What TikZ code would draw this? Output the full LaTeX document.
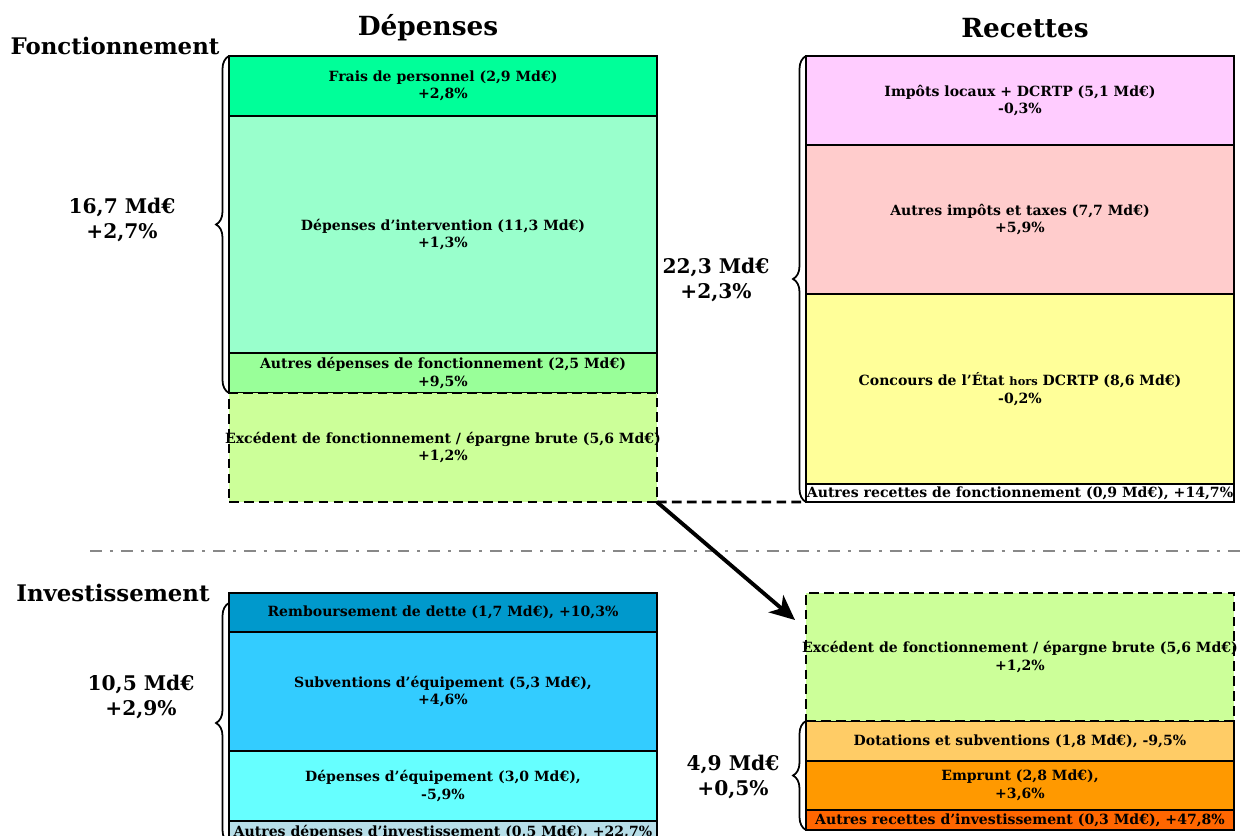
\documentclass[tikz,border=0pt]{standalone}
\usepackage{fontspec}
\setmainfont{DejaVu Serif}
\usetikzlibrary{positioning,decorations.pathreplacing,arrows.meta}
\definecolor{cfrais}{HTML}{00FF99}
\definecolor{cinterv}{HTML}{99FFCC}
\definecolor{cautresdep}{HTML}{99FF99}
\definecolor{cexcedent}{HTML}{CCFF99}
\definecolor{cimpots}{HTML}{FFCCFF}
\definecolor{cautresimp}{HTML}{FFCCCC}
\definecolor{cconcours}{HTML}{FFFF99}
\definecolor{crembours}{HTML}{0099CC}
\definecolor{csubv}{HTML}{33CCFF}
\definecolor{cequip}{HTML}{66FFFF}
\definecolor{cautresinv}{HTML}{B7DEE8}
\definecolor{cdotations}{HTML}{FFCC66}
\definecolor{cemprunt}{HTML}{FF9900}
\definecolor{cautresrecinv}{HTML}{FF6600}
\definecolor{cgris}{HTML}{888888}
\begin{document}
\begin{tikzpicture}[
  bloc/.style={draw, fill=#1, line width=0.6pt, minimum width=8.56cm, inner sep=0pt, outer sep=0pt, anchor=north},
  tirets/.style={bloc=#1, dash pattern=on 5.5pt off 3pt, line width=1.6pt},
  every label/.style={align=center, font=\bfseries\fontsize{8}{10}\selectfont},
  accolade/.style={decorate, decoration={brace, amplitude=0.26cm}, line width=1pt},
  total/.style={align=center, font=\bfseries\fontsize{11.5}{14}\selectfont},
  titre/.style={font=\bfseries\fontsize{15}{18}\selectfont},
  rubrique/.style={font=\bfseries\fontsize{13}{16}\selectfont},
  separation/.style={cgris, line width=1.7pt, dash pattern=on 6.8pt off 4.5pt on 1.7pt off 4.5pt},
  fleche/.style={-{Stealth[length=0.5cm,width=0.45cm,inset=0.14cm]}, line width=2.2pt}]
  \useasboundingbox (0,0) rectangle (24.94,16.7);

  \node[titre] (depenses) at (8.56,16.14) {Dépenses};
  \node[titre] (recettes) at (20.5,16.14) {Recettes};
  \node[rubrique] (fonct) at (2.3,15.78) {Fonctionnement};
  \node[rubrique] (invest) at (2.26,4.84) {Investissement};

  \node[bloc=cfrais, minimum height=1.2cm, label={center:{Frais de personnel (2,9 Md€)\\+2,8\%}}] (frais) at (8.86,15.58) {};
  \node[bloc=cinterv, minimum height=4.74cm, below=0pt of frais, label={center:{Dépenses d’intervention (11,3 Md€)\\+1,3\%}}] (interv) {};
  \node[bloc=cautresdep, minimum height=0.8cm, below=0pt of interv, label={center:{Autres dépenses de fonctionnement (2,5 Md€)\\+9,5\%}}] (autresdep) {};
  \node[tirets=cexcedent, minimum height=2.18cm, below=0pt of autresdep, label={center:{Excédent de fonctionnement / épargne brute (5,6 Md€)\\+1,2\%}}] (excfonct) {};

  \node[bloc=cimpots, minimum height=1.78cm, label={center:{Impôts locaux + DCRTP (5,1 Md€)\\-0,3\%}}] (impots) at (20.4,15.58) {};
  \node[bloc=cautresimp, minimum height=2.98cm, below=0pt of impots, label={center:{Autres impôts et taxes (7,7 Md€)\\+5,9\%}}] (autresimp) {};
  \node[bloc=cconcours, minimum height=3.8cm, below=0pt of autresimp, label={center:{Concours de l’État {\fontsize{6.5}{8}\selectfont hors} DCRTP (8,6 Md€)\\-0,2\%}}] (concours) {};
  \node[bloc=white, minimum height=0.36cm, below=0pt of concours, label={center:{Autres recettes de fonctionnement (0,9 Md€), +14,7\%}}] (autresrec) {};

  \draw[dash pattern=on 5.5pt off 3pt, line width=1.6pt] (excfonct.south east) -- (autresrec.south west);
  \draw[accolade] (autresdep.south west) -- (frais.north west);
  \draw[accolade] (autresrec.south west) -- (impots.north west);
  \node[total] (totdepf) at (2.44,12.3) {16,7 Md€\\+2,7\%};
  \node[total] (totrecf) at (14.32,11.1) {22,3 Md€\\+2,3\%};

  \draw[separation] (1.8,5.68) -- (24.8,5.68);

  \node[bloc=crembours, minimum height=0.78cm, label={center:{Remboursement de dette (1,7 Md€), +10,3\%}}] (rembours) at (8.86,4.84) {};
  \node[bloc=csubv, minimum height=2.38cm, below=0pt of rembours, label={center:{Subventions d’équipement (5,3 Md€),\\+4,6\%}}] (subv) {};
  \node[bloc=cequip, minimum height=1.4cm, below=0pt of subv, label={center:{Dépenses d’équipement (3,0 Md€),\\-5,9\%}}] (equip) {};
  \node[bloc=cautresinv, minimum height=0.44cm, below=0pt of equip, label={center:{Autres dépenses d’investissement (0,5 Md€), +22,7\%}}] (autresinv) {};

  \node[bloc=cdotations, minimum height=0.8cm, label={center:{Dotations et subventions (1,8 Md€), -9,5\%}}] (dotations) at (20.4,2.28) {};
  \node[bloc=cemprunt, minimum height=0.98cm, below=0pt of dotations, label={center:{Emprunt (2,8 Md€),\\+3,6\%}}] (emprunt) {};
  \node[bloc=cautresrecinv, minimum height=0.4cm, below=0pt of emprunt, label={center:{Autres recettes d’investissement (0,3 Md€), +47,8\%}}] (autresrecinv) {};
  \node[tirets=cexcedent, minimum height=2.56cm, above=0pt of dotations, anchor=south, label={center:{Excédent de fonctionnement / épargne brute (5,6 Md€)\\+1,2\%}}] (excinv) {};

  \draw[accolade] (autresinv.south west) -- ([yshift=-0.2cm]rembours.north west);
  \draw[accolade] (autresrecinv.south west) -- (dotations.north west);
  \node[total] (totdepi) at (2.82,2.76) {10,5 Md€\\+2,9\%};
  \node[total] (totreci) at (14.66,1.16) {4,9 Md€\\+0,5\%};

  \draw[fleche] (excfonct.south east) -- ([xshift=-0.22cm,yshift=-0.54cm]excinv.north west);
\end{tikzpicture}
\end{document}
